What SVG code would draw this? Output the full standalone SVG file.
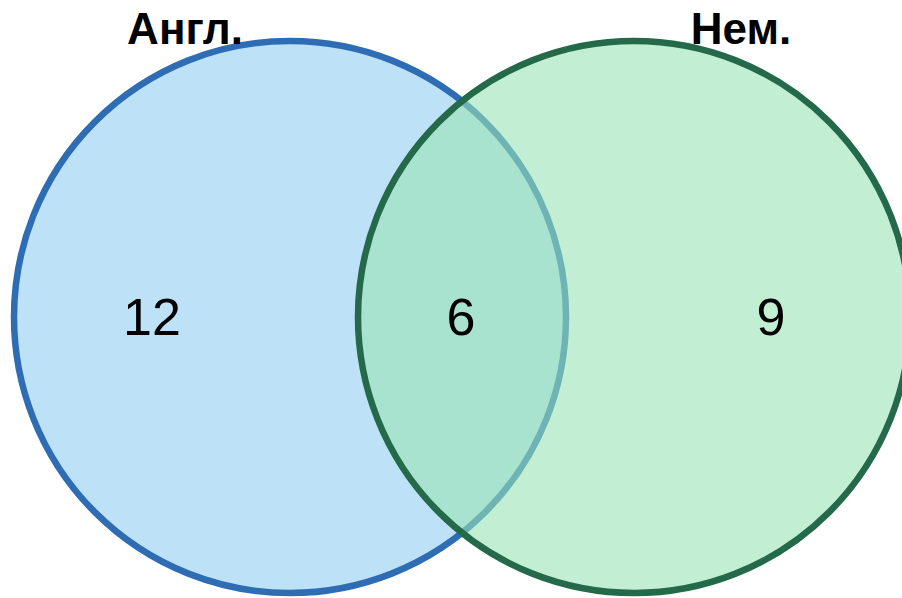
<svg xmlns="http://www.w3.org/2000/svg" width="902" height="598" viewBox="0 0 902 598">
<style>
.lbl{font-family:"Liberation Sans",Arial,sans-serif;font-weight:bold;font-size:44px;fill:#000;text-anchor:middle}
.num{font-family:"Liberation Sans",Arial,sans-serif;font-size:52px;fill:#000;text-anchor:middle}
</style>
<rect width="902" height="598" fill="#ffffff"/>
<g id="english">
<circle cx="290" cy="317" r="276" fill="#bde1f7" stroke="#2e6db4" stroke-width="6.5"/>
</g>
<g id="german">
<circle cx="634" cy="317" r="276" fill="#99e4b6" fill-opacity="0.6" stroke="none"/>
<circle cx="634" cy="317" r="276" fill="none" stroke="#246a4a" stroke-width="6.5"/>
</g>
<g id="labels">
<text class="lbl" x="185" y="44">Англ.</text>
<text class="lbl" x="741" y="44">Нем.</text>
<text class="num" x="152" y="335">12</text>
<text class="num" x="461" y="335">6</text>
<text class="num" x="771" y="335">9</text>
</g>
</svg>
